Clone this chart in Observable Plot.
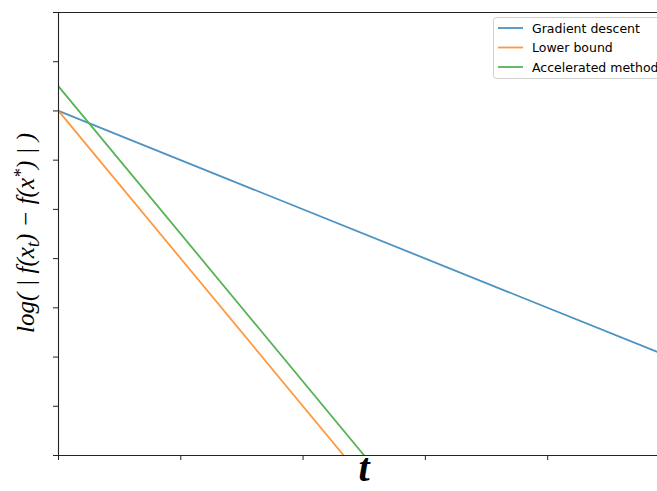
<!DOCTYPE html>
<html>
<head>
<meta charset="utf-8">
<script src="https://cdn.jsdelivr.net/npm/d3@7"></script>
<script src="https://cdn.jsdelivr.net/npm/@observablehq/plot@0.6"></script>
<style>
  html, body { margin: 0; padding: 0; background: #fff; overflow: hidden; }
  #chart { width: 657px; height: 491px; }
</style>
</head>
<body>
<div id="chart"></div>
<script>
// Series (t, log error)
const seriesNames = ["Gradient descent", "Lower bound", "Accelerated method"];
const seriesColors = ["#4c92c3", "#ff993e", "#56b356"];
const gradT = [0, 5];
const gradV = [7, 2];
const lowerT = [0, 2.333];
const lowerV = [7, 0];
const accelT = [0, 2.5];
const accelV = [7.5, 0];
const xTicks = [0, 1, 2, 3, 4, 5];
const yTicks = [0, 1, 2, 3, 4, 5, 6, 7, 8, 9];

const rows = [];
[[gradT, gradV], [lowerT, lowerV], [accelT, accelV]].forEach(([ts, vs], i) => {
  ts.forEach((t, j) => rows.push({series: seriesNames[i], t, v: vs[j]}));
});

const W = 657, H = 491;
const plot = Plot.plot({
  width: W,
  height: H,
  marginLeft: 58,
  marginTop: 12,
  marginBottom: 36,
  marginRight: 0,
  style: {background: "#fff", overflow: "visible"},
  x: {domain: [0, 4.898], label: null},
  y: {domain: [0, 9], label: null},
  color: {domain: seriesNames, range: seriesColors},
  marks: [
    Plot.line(rows, {x: "t", y: "v", z: "series", stroke: "series", strokeWidth: 1.8, clip: true}),
    Plot.axisX({ticks: xTicks.filter(d => d <= 4.898), tickFormat: () => "", tickSize: 5, stroke: "#222", label: null}),
    Plot.axisY({ticks: yTicks, tickFormat: () => "", tickSize: 5, stroke: "#222", label: null}),
    Plot.ruleX([0], {stroke: "#222", strokeWidth: 1.1}),
    Plot.ruleY([0, 9], {stroke: "#222", strokeWidth: 1.1})
  ]
});
document.getElementById("chart").appendChild(plot);

const svg = d3.select(plot);

// y label (rotated, italic serif math)
const yl = svg.append("text")
  .attr("transform", "translate(34,233) rotate(-90)")
  .attr("text-anchor", "middle")
  .style("font-family", "'Liberation Serif', 'DejaVu Serif', serif")
  .style("font-style", "italic")
  .style("font-size", "25px")
  .attr("fill", "#000");
yl.append("tspan").text("log( | f(x");
yl.append("tspan").attr("baseline-shift", "-25%").style("font-size", "18px").text("t");
yl.append("tspan").text(") \u2212 f(x");
yl.append("tspan").attr("baseline-shift", "40%").style("font-size", "18px").text("*");
yl.append("tspan").text(") | )");

// x label
svg.append("text")
  .attr("x", 364).attr("y", 481)
  .attr("text-anchor", "middle")
  .style("font-family", "'Liberation Serif', 'DejaVu Serif', serif")
  .style("font-style", "italic")
  .style("font-weight", "bold")
  .style("font-size", "40px")
  .attr("fill", "#000")
  .text("t");

// legend
const lg = svg.append("g").attr("text-anchor", "start");
lg.append("rect")
  .attr("x", 493.5).attr("y", 17.5).attr("width", 180).attr("height", 61)
  .attr("rx", 3).attr("fill", "#fff").attr("fill-opacity", 0.8)
  .attr("stroke", "#d0d0d0").attr("stroke-width", 1);
seriesNames.forEach((name, i) => {
  const y = 28 + i * 19.5;
  lg.append("line")
    .attr("x1", 498).attr("x2", 523).attr("y1", y).attr("y2", y)
    .attr("stroke", seriesColors[i]).attr("stroke-width", 1.8);
  lg.append("text")
    .attr("x", 532).attr("y", y + 4.5)
    .attr("text-anchor", "start")
    .style("font-family", "'DejaVu Sans', sans-serif")
    .style("font-size", "12.5px")
    .attr("fill", "#000")
    .text(name);
});
</script>
</body>
</html>
